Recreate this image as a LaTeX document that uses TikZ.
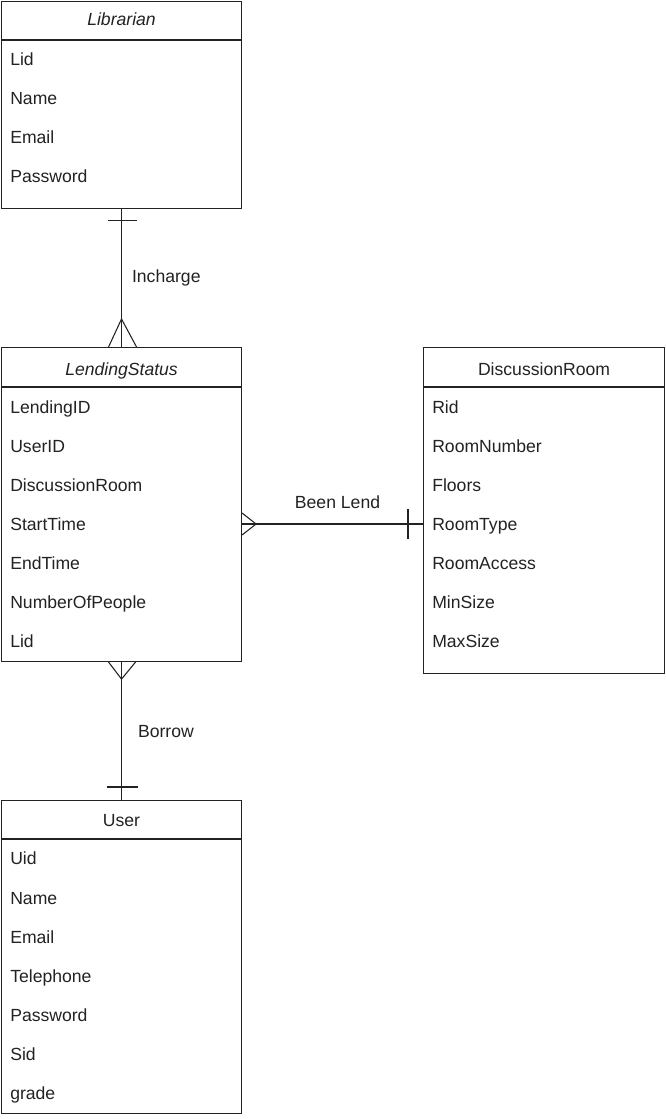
\documentclass[tikz,border=0pt]{standalone}
\usepackage{fontspec}
\setmainfont{Liberation Sans}
\usetikzlibrary{calc}
\definecolor{ink}{HTML}{222222}
\tikzset{
  entity/.style={draw=ink, line width=0.8pt, inner sep=0pt, anchor=north west, minimum width=180pt},
  attr/.style={anchor=base west, inner sep=0pt, text=ink, font=\fontsize{13.2}{15}\selectfont},
  title/.style={anchor=base, inner sep=0pt, text=ink, font=\fontsize{13.2}{15}\selectfont},
  rel/.style={draw=ink, line width=0.8pt},
  rellabel/.style={inner sep=0pt, text=ink, font=\fontsize{13.2}{15}\selectfont},
}
\begin{document}
\begin{tikzpicture}[x=0.75pt,y=-0.75pt]
\useasboundingbox (0,0) rectangle (665,1119);
% Librarian
\node[entity, minimum height=155.25pt] (lib) at (1,1) {};
\draw[rel] ($(lib.north west)+(0,39)$) -- ($(lib.north east)+(0,39)$);
\node[title, font=\fontsize{13.2}{15}\selectfont\itshape] (libt) at ($(lib.north)+(0,25)$) {Librarian};
\node[attr] (lib1) at ($(lib.north west)+(9,65)$) {Lid};
\node[attr] (lib2) at ($(lib.north west)+(9,104)$) {Name};
\node[attr] (lib3) at ($(lib.north west)+(9,143)$) {Email};
\node[attr] (lib4) at ($(lib.north west)+(9,182)$) {Password};
% LendingStatus
\node[entity, minimum height=235.5pt] (ls) at (1,347) {};
\draw[rel] ($(ls.north west)+(0,40)$) -- ($(ls.north east)+(0,40)$);
\node[title, font=\fontsize{13.2}{15}\selectfont\itshape] (lst) at ($(ls.north)+(0,28)$) {LendingStatus};
\node[attr] (ls1) at ($(ls.north west)+(9,66)$) {LendingID};
\node[attr] (ls2) at ($(ls.north west)+(9,105)$) {UserID};
\node[attr] (ls3) at ($(ls.north west)+(9,144)$) {DiscussionRoom};
\node[attr] (ls4) at ($(ls.north west)+(9,183)$) {StartTime};
\node[attr] (ls5) at ($(ls.north west)+(9,222)$) {EndTime};
\node[attr] (ls6) at ($(ls.north west)+(9,261)$) {NumberOfPeople};
\node[attr] (ls7) at ($(ls.north west)+(9,300)$) {Lid};
% DiscussionRoom
\node[entity, minimum width=180.75pt, minimum height=244.5pt] (dr) at (423,347) {};
\draw[rel] ($(dr.north west)+(0,40)$) -- ($(dr.north east)+(0,40)$);
\node[title] (drt) at ($(dr.north)+(0,28)$) {DiscussionRoom};
\node[attr] (dr1) at ($(dr.north west)+(9,66)$) {Rid};
\node[attr] (dr2) at ($(dr.north west)+(9,105)$) {RoomNumber};
\node[attr] (dr3) at ($(dr.north west)+(9,144)$) {Floors};
\node[attr] (dr4) at ($(dr.north west)+(9,183)$) {RoomType};
\node[attr] (dr5) at ($(dr.north west)+(9,222)$) {RoomAccess};
\node[attr] (dr6) at ($(dr.north west)+(9,261)$) {MinSize};
\node[attr] (dr7) at ($(dr.north west)+(9,300)$) {MaxSize};
% User
\node[entity, minimum height=234.75pt] (usr) at (1,800) {};
\draw[rel] ($(usr.north west)+(0,39)$) -- ($(usr.north east)+(0,39)$);
\node[title] (usrt) at ($(usr.north)+(0,26)$) {User};
\node[attr] (usr1) at ($(usr.north west)+(9,64)$) {Uid};
\node[attr] (usr2) at ($(usr.north west)+(9,104)$) {Name};
\node[attr] (usr3) at ($(usr.north west)+(9,143)$) {Email};
\node[attr] (usr4) at ($(usr.north west)+(9,182)$) {Telephone};
\node[attr] (usr5) at ($(usr.north west)+(9,221)$) {Password};
\node[attr] (usr6) at ($(usr.north west)+(9,260)$) {Sid};
\node[attr] (usr7) at ($(usr.north west)+(9,299)$) {grade};
% Incharge
\draw[rel] (lib.south) -- node[rellabel, anchor=west, xshift=7.5pt] (lbl1) {Incharge} (ls.north);
\draw[rel] ($(lib.south)+(-14,11)$) -- ($(lib.south)+(15,11)$);
\draw[rel] ($(ls.north)+(-13,0)$) -- ($(ls.north)+(0,-28)$) -- ($(ls.north)+(15,0)$);
% Been Lend
\coordinate (blA) at ($(ls.east |- ls4.base)+(0,-6)$);
\coordinate (blB) at (dr.west |- blA);
\draw[rel] (blA) -- node[rellabel, anchor=south, xshift=3.75pt, yshift=11.25pt] (lbl2) {Been Lend} (blB);
\draw[rel] ($(blA)+(0,-11)$) -- ($(blA)+(14,0)$) -- ($(blA)+(0,11)$);
\draw[rel] ($(blB)+(-15,-15)$) -- ($(blB)+(-15,15)$);
% Borrow
\draw[rel] (ls.south) -- node[rellabel, anchor=west, xshift=12pt] (lbl3) {Borrow} (usr.north);
\draw[rel] ($(ls.south)+(-13,0)$) -- ($(ls.south)+(0,17)$) -- ($(ls.south)+(14,0)$);
\draw[rel] ($(usr.north)+(-15,-13)$) -- ($(usr.north)+(16,-13)$);
\end{tikzpicture}
\end{document}
